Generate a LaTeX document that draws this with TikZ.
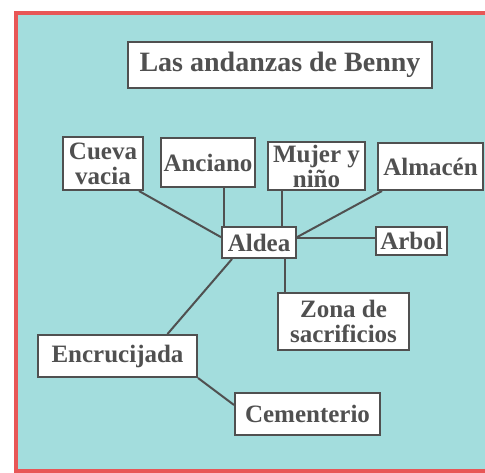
\documentclass[tikz,border=0pt]{standalone}
\usepackage{fontspec}
\setmainfont{Liberation Serif}
\usetikzlibrary{calc, positioning}

\definecolor{fondo}{RGB}{163,221,221}
\definecolor{marco}{RGB}{232,86,86}
\definecolor{tinta}{RGB}{80,80,80}

\tikzset{
  caja/.style={draw=tinta, line width=2pt, fill=white, text=tinta, inner sep=1pt,
    align=center, font=\fontsize{25}{25}\selectfont\bfseries},
  enlace/.style={draw=tinta, line width=2pt}
}

\begin{document}
\begin{tikzpicture}[x=1pt, y=-1pt]
  \useasboundingbox (0,0) rectangle (485,473);
  \clip (0,0) rectangle (485,473);
  % fondo y marco
  \fill[fondo] (16,13) rectangle (495,471);
  \draw[marco, line width=4pt] (16,13) rectangle (495,471);
  % titulo
  \node[caja, minimum width=304, minimum height=46, font=\fontsize{28}{28}\selectfont\bfseries] (titulo) at (280,65) {Las andanzas de Benny};
  % lugares
  \node[caja, minimum width=80, minimum height=53] (cueva) at (103,163.5) {Cueva\\vacia};
  \node[caja, minimum width=94, minimum height=49] (anciano) at (208,162.5) {Anciano};
  \node[caja, minimum width=97, minimum height=48] (mujer) at (316.5,166) {Mujer y\\niño};
  \node[caja, minimum width=105, minimum height=47] (almacen) at (430.5,166.5) {Almacén};
  \node[caja, minimum width=74, minimum height=31] (aldea) at (259,242.5) {Aldea};
  \node[caja, minimum width=71, minimum height=28] (arbol) at (411.5,241) {Arbol};
  \node[caja, minimum width=131, minimum height=57] (zona) at (343.5,321.5) {Zona de\\sacrificios};
  \node[caja, minimum width=159, minimum height=42] (encrucijada) at (117.5,356) {Encrucijada};
  \node[caja, minimum width=145, minimum height=42] (cementerio) at (307.5,414) {Cementerio};
  % caminos
  \draw[enlace] ([xshift=-5]cueva.south east) -- (aldea.172);
  \draw[enlace] ([xshift=3]aldea.north west) -- ([xshift=3]aldea.north west |- anciano.south);
  \draw[enlace] ([xshift=23]aldea.north) -- ([xshift=23]aldea.north |- mujer.south);
  \draw[enlace] ([xshift=5]almacen.south west) -- (aldea.8);
  \draw[enlace] ([yshift=4.5]aldea.east) -- ([yshift=4.5]aldea.east -| arbol.west);
  \draw[enlace] ([xshift=26]aldea.south) -- ([xshift=26]aldea.south |- zona.north);
  \draw[enlace] ([xshift=11]aldea.south west) -- ([xshift=50]encrucijada.north);
  \draw[enlace] (encrucijada.south east) -- (cementerio.173);
\end{tikzpicture}
\end{document}
